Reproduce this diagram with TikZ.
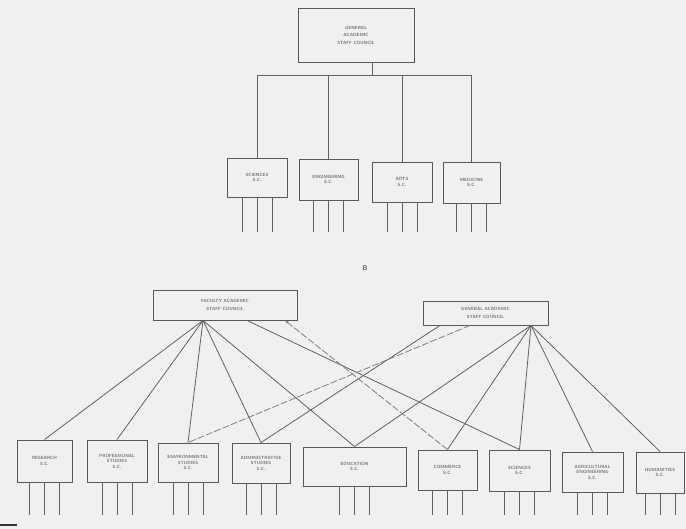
\documentclass[tikz,border=0pt]{standalone}
\usetikzlibrary{arrows.meta}
\begin{document}
\begin{tikzpicture}[x=1pt,y=-1pt,
  box/.style={draw=black!65, line width=0.9pt, inner sep=1pt, align=center,
    font=\fontsize{4.5}{5.5}\selectfont\sffamily\bfseries, text=black!55},
  link/.style={draw=black!62, line width=0.8pt},
  dlink/.style={draw=black!50, line width=0.8pt, dash pattern=on 7pt off 2pt},
  leg/.style={draw=black!62, line width=0.9pt}]
\fill[black!6] (0,0) rectangle (686,529);
\useasboundingbox (0,0) rectangle (686,529);

% ---------- upper chart ----------
\node[box, minimum width=116pt, minimum height=54pt] (top) at (356,35)
  {GENERAL\\[2pt]ACADEMIC\\[2pt]STAFF COUNCIL};
\coordinate (stem) at (372,75);
\coordinate (busL) at (257,75);
\coordinate (busR) at (471.5,75);
\coordinate (legU) at (0,232);
\coordinate (legL) at (0,515);
\draw[link] (top.south -| stem) -- (stem);
\draw[link] (busL) -- (busR);

\node[box, minimum width=60pt, minimum height=39pt] (s1) at (257,177.5) {SCIENCES\\S.C.};
\node[box, minimum width=59pt, minimum height=41pt] (s2) at (328.5,179.5) {ENGINEERING\\S.C.};
\node[box, minimum width=60pt, minimum height=40pt] (s3) at (402,182) {ARTS\\S.C.};
\node[box, minimum width=57pt, minimum height=41pt] (s4) at (471.5,182.5) {MEDICINE\\S.C.};

\draw[link] (busL) -- (s1.north);
\draw[link] (s2.north |- stem) -- (s2.north);
\draw[link] (s3.north |- stem) -- (s3.north);
\draw[link] (busR) -- (s4.north);

\foreach \n in {s1,s2,s3,s4}{
  \foreach \dx in {-15,0,15}{
    \draw[leg] ([xshift=\dx pt]\n.south) -- ([xshift=\dx pt]\n.south |- legU);
  }
}

\node[font=\fontsize{7}{8}\selectfont\sffamily\bfseries, text=black!60] (lblB) at (365,268) {B};

% ---------- lower chart ----------
\node[box, minimum width=144pt, minimum height=30pt] (lb) at (225,305)
  {FACULTY ACADEMIC\\[2pt]STAFF COUNCIL};
\node[box, minimum width=125pt, minimum height=24pt] (rb) at (485.5,313)
  {GENERAL ACADEMIC\\[2pt]STAFF COUNCIL};
\coordinate (La) at (lb.south -| 203,0);
\coordinate (Lb) at (lb.south -| 247,0);
\coordinate (Ld) at (lb.south -| 285,0);
\coordinate (Ra) at (rb.south -| 531,0);
\coordinate (Rb) at (rb.south -| 440,0);
\coordinate (Rd) at (rb.south -| 470,0);

\node[box, minimum width=55pt, minimum height=42pt] (a) at (44.5,461) {RESEARCH\\S.C.};
\node[box, minimum width=60pt, minimum height=42pt] (b) at (117,461) {PROFESSIONAL\\STUDIES\\S.C.};
\node[box, minimum width=60pt, minimum height=39pt] (c) at (188,462.5) {ENVIRONMENTAL\\STUDIES\\S.C.};
\node[box, minimum width=58pt, minimum height=40pt] (d) at (261,463) {ADMINISTRATIVE\\STUDIES\\S.C.};
\node[box, minimum width=103pt, minimum height=39pt] (e) at (354.5,466.5) {EDUCATION\\S.C.};
\node[box, minimum width=59pt, minimum height=40pt] (f) at (447.5,470) {COMMERCE\\S.C.};
\node[box, minimum width=61pt, minimum height=41pt] (g) at (519.5,470.5) {SCIENCES\\S.C.};
\node[box, minimum width=61pt, minimum height=40pt] (h) at (592.5,472) {AGRICULTURAL\\ENGINEERING\\S.C.};
\node[box, minimum width=48pt, minimum height=41pt] (i) at (660,472.5) {HUMANITIES\\S.C.};

\foreach \t in {a,b,c,d,e}{ \draw[link] (La) -- (\t.north); }
\draw[link] (Lb) -- (g.north);
\foreach \t in {e,f,g,h,i}{ \draw[link] (Ra) -- (\t.north); }
\draw[link] (Rb) -- (d.north);
\draw[dlink, -{Stealth[length=4pt]}] (f.north) -- (Ld);
\draw[dlink] (Rd) -- (c.north);

\foreach \n in {a,b,c,d,e,f,g,h,i}{
  \foreach \dx in {-15,0,15}{
    \draw[leg] ([xshift=\dx pt]\n.south) -- ([xshift=\dx pt]\n.south |- legL);
  }
}

\coordinate (m1) at (0,525);
\coordinate (m2) at (17,525);
\draw[black!80, line width=2pt] (m1) -- (m2);
\end{tikzpicture}
\end{document}
